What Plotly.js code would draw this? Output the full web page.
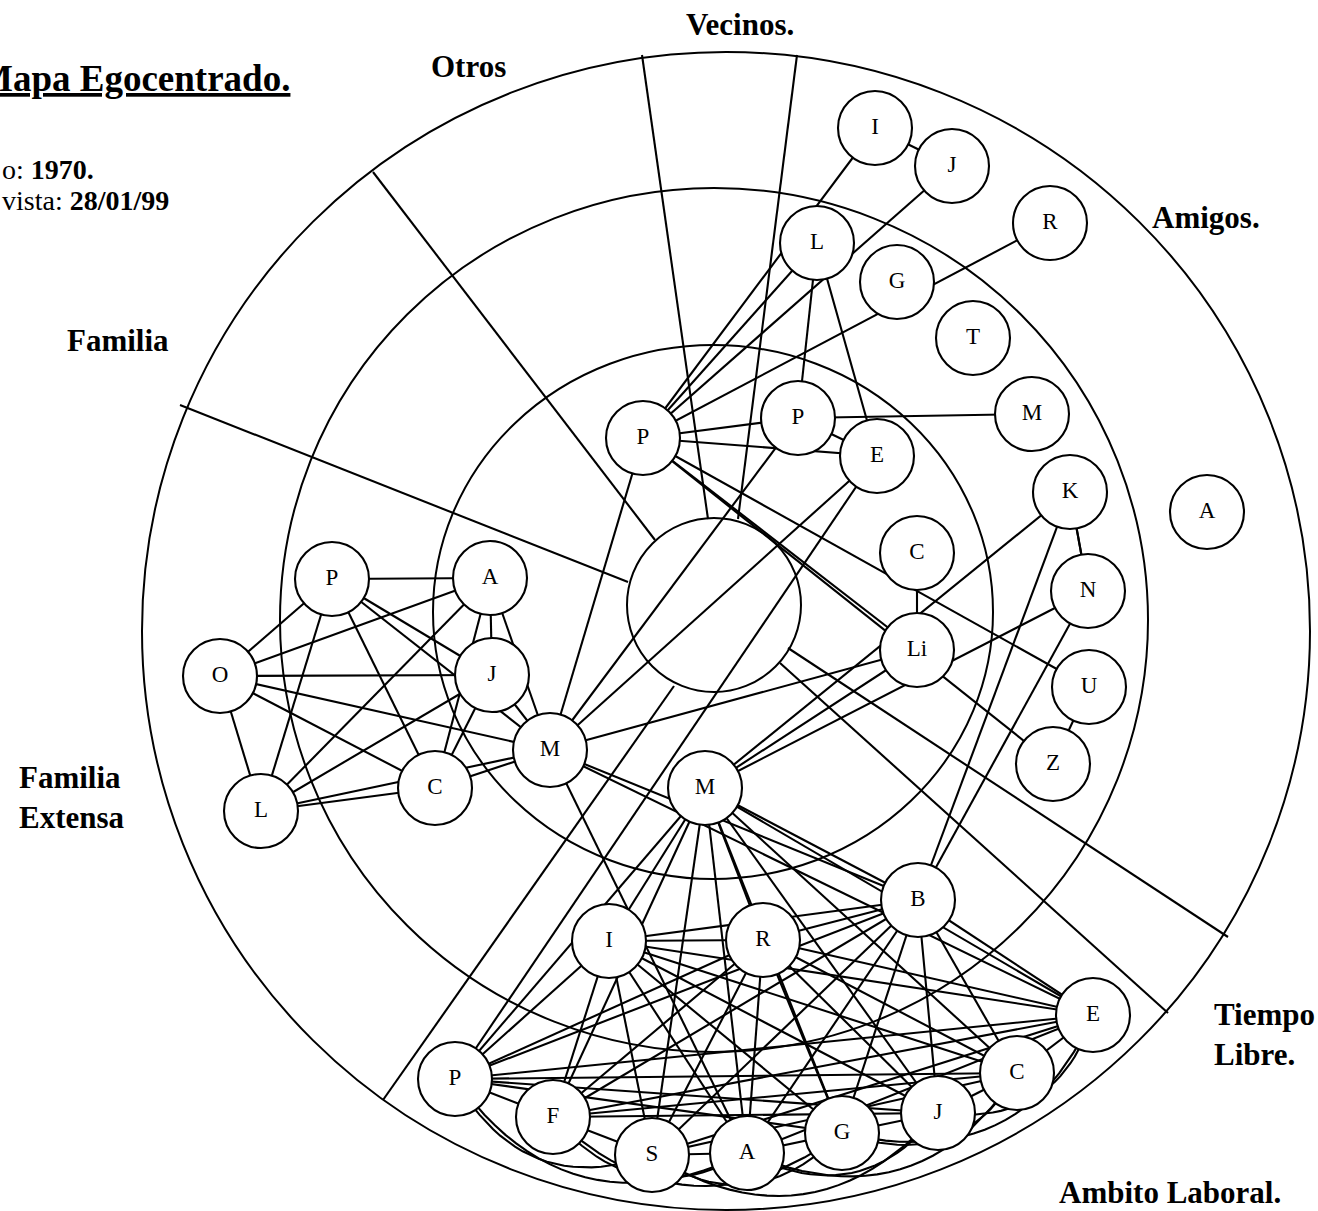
<!DOCTYPE html>
<html>
<head>
<meta charset="utf-8">
<script src="https://cdn.plot.ly/plotly-3.0.1.min.js"></script>
<style>html,body{margin:0;padding:0;background:#fff;overflow:hidden}#chart{width:1318px;height:1211px}</style>
</head>
<body>
<div id="chart"></div>
<script>
// ---- Nodes ----
const nodeId    = ['vP','aP','aI','aJ','aR','aL','aG','aT','aM','aE','aC','aLi','aK','aN','aU','aZ','aA','cM',
                   'fP','fA','fO','fJ','fL','fC','fM',
                   'lB','lI','lR','lE','lC','lJ','lG','lA','lS','lF','lP'];
const nodeLabel = ['P','P','I','J','R','L','G','T','M','E','C','Li','K','N','U','Z','A','M',
                   'P','A','O','J','L','C','M',
                   'B','I','R','E','C','J','G','A','S','F','P'];
const nodeX = [643,798,875,952,1050,817,897,973,1032,877,917,917,1070,1088,1089,1053,1207,705,
               332,490,220,492,261,435,550,
               918,609,763,1093,1017,938,842,747,652,553,455];
const nodeY = [438,418,128,166,223,243,282,338,414,456,553,650,492,591,687,764,512,788,
               579,578,676,675,811,788,750,
               900,941,940,1015,1073,1113,1133,1153,1155,1117,1079];

// ---- Edges (pairs of node ids) ----
const edgeFrom = ['aI','aI','aJ','aL','aR','aP','aE','aLi','aU','aZ','vP','aL','aL','aP','aP','aP','aE','aK','aN','aU','aC',
                  'fP','fP','fO','fP','fP','fP','fP','fO','fO','fO','fO','fL','fL','fL','fL','fA','fJ','fA','fA','fJ','fC',
                  'cM','cM','cM','fM','fM','fM','fM','aK','aN','lP'];
const edgeTo   = ['aJ','vP','vP','vP','vP','vP','vP','vP','vP','vP','fM','aP','aE','aM','aE','fM','fM','aN','aK','aZ','aLi',
                  'fA','fO','fL','fL','fC','fM','fJ','fA','fJ','fM','fC','fA','fJ','fM','fC','fC','fC','fM','fJ','fM','fM',
                  'aK','aLi','aN','aLi','lB','lE','lA','lB','lB','aE'];
// work-sphere cluster: all members are linked with each other
const laboralGroup = ['lB','lI','lR','lE','lC','lJ','lG','lA','lS','lF','lP','cM'];
// order of the nodes along the bottom arc (close pairs are drawn as arcs underneath)
const bottomArc = ['lP','lF','lS','lA','lG','lJ','lC','lE'];

// ---- Rings and sector dividers ----
const ringCx = [726, 714, 713, 714];
const ringCy = [631, 620, 612, 605];
const ringRx = [584, 434, 280, 87];
const ringRy = [579, 432, 267, 87];
const dividerX0 = [642, 797, 373, 180, 383, 1168, 1228];
const dividerY0 = [55, 55, 172, 405, 1100, 1013, 937];
const dividerX1 = [708, 738, 655, 628, 674, 780, 788];
const dividerY1 = [519, 519, 540, 582, 686, 663, 648];

// ---- Texts ----
const sectorText = ['Otros','Vecinos.','Amigos.','Familia','Familia<br>Extensa','Tiempo<br>Libre.','Ambito Laboral.'];
const sectorX = [468, 740, 1150, 118, 17, 1212, 1170];
const sectorY = [66, 24, 217, 340, 797, 1034, 1192];
const sectorAnchor = ['center','center','left','center','left','left','center'];

// ---------------------------------------------------------
const idx = id => nodeId.indexOf(id);
const ex = [], ey = [];
function seg(a, b){ const i = idx(a), j = idx(b); ex.push(nodeX[i], nodeX[j], null); ey.push(nodeY[i], nodeY[j], null); }
for (let k = 0; k < edgeFrom.length; k++) seg(edgeFrom[k], edgeTo[k]);

const cx = [], cy = [];
for (let a = 0; a < laboralGroup.length; a++) {
  for (let b = a + 1; b < laboralGroup.length; b++) {
    const p = laboralGroup[a], q = laboralGroup[b];
    const ia = bottomArc.indexOf(p), ib = bottomArc.indexOf(q);
    const gap = (ia >= 0 && ib >= 0) ? Math.abs(ia - ib) : 0;
    if (gap === 2 || gap === 3) {
      const i = idx(p), j = idx(q);
      const mx = (nodeX[i] + nodeX[j]) / 2, my = (nodeY[i] + nodeY[j]) / 2;
      let ox = mx - ringCx[0], oy = my - ringCy[0];
      const on = Math.hypot(ox, oy); ox /= on; oy /= on;
      const L = Math.hypot(nodeX[j] - nodeX[i], nodeY[j] - nodeY[i]);
      const d = 0.42 * L;
      const kx = mx + ox * d, ky = my + oy * d;
      for (let s = 0; s <= 24; s++) {
        const t = s / 24;
        cx.push((1-t)*(1-t)*nodeX[i] + 2*(1-t)*t*kx + t*t*nodeX[j]);
        cy.push((1-t)*(1-t)*nodeY[i] + 2*(1-t)*t*ky + t*t*nodeY[j]);
      }
      cx.push(null); cy.push(null);
    } else {
      seg(p, q);
    }
  }
}

const dx = [], dy = [];
for (let k = 0; k < dividerX0.length; k++) { dx.push(dividerX0[k], dividerX1[k], null); dy.push(dividerY0[k], dividerY1[k], null); }

const lineStyle = {color: '#000', width: 2.1};
const traces = [
  {type:'scatter', mode:'lines', x: dx, y: dy, line: lineStyle, hoverinfo:'skip'},
  {type:'scatter', mode:'lines', x: ex, y: ey, line: lineStyle, hoverinfo:'skip'},
  {type:'scatter', mode:'lines', x: cx, y: cy, line: lineStyle, hoverinfo:'skip'},
  {type:'scatter', mode:'markers+text', x: nodeX, y: nodeY, text: nodeLabel,
   textposition:'middle center', cliponaxis:false,
   textfont:{family:'Liberation Serif', size:23, color:'#000'},
   marker:{size:74, color:'#fff', line:{color:'#000', width:2.1}}, hoverinfo:'skip'}
];

const shapes = ringCx.map((c, k) => ({type:'circle', xref:'x', yref:'y', layer:'below',
  x0: c - ringRx[k], x1: c + ringRx[k], y0: ringCy[k] - ringRy[k], y1: ringCy[k] + ringRy[k],
  line:{color:'#000', width:2}, fillcolor:'rgba(0,0,0,0)'}));

const serifBold = {family:'Liberation Serif', size:31, color:'#000'};
const annotations = sectorText.map((t, k) => ({xref:'x', yref:'y', x: sectorX[k], y: sectorY[k],
  text:'<b>' + t + '</b>', showarrow:false, xanchor: sectorAnchor[k], yanchor:'middle', align:'left', font: serifBold}));
annotations.push({xref:'x', yref:'y', x:292, y:78, xanchor:'right', yanchor:'middle', showarrow:false,
  text:'<b><u>Mapa Egocentrado.</u></b>', font:{family:'Liberation Serif', size:37, color:'#000'}});
annotations.push({xref:'x', yref:'y', x:0, y:169, xanchor:'left', yanchor:'middle', showarrow:false,
  text:'o: <b>1970.</b>', font:{family:'Liberation Serif', size:28, color:'#000'}});
annotations.push({xref:'x', yref:'y', x:0, y:200, xanchor:'left', yanchor:'middle', showarrow:false,
  text:'vista: <b>28/01/99</b>', font:{family:'Liberation Serif', size:28, color:'#000'}});

const layout = {
  width:1318, height:1211, margin:{l:0, r:0, t:0, b:0},
  paper_bgcolor:'#fff', plot_bgcolor:'#fff', showlegend:false,
  xaxis:{range:[0,1318], visible:false, fixedrange:true},
  yaxis:{range:[1211,0], visible:false, fixedrange:true},
  shapes: shapes, annotations: annotations
};
Plotly.newPlot('chart', traces, layout, {staticPlot:true, displayModeBar:false});
</script>
</body>
</html>
